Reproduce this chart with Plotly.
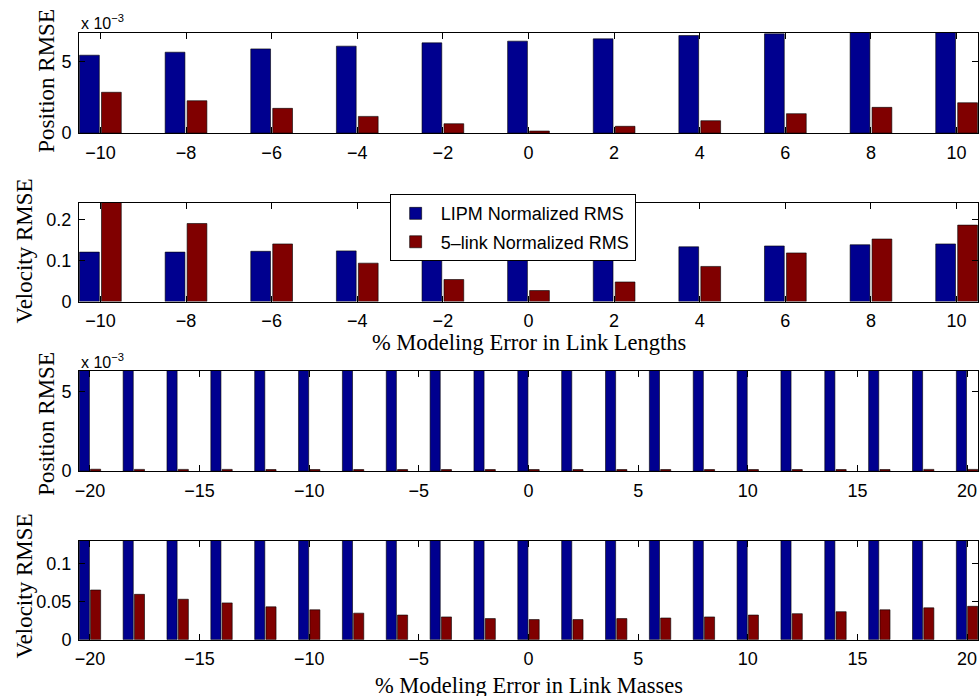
import plotly.graph_objects as go

# ---------------- data ----------------
lengths = [-10, -8, -6, -4, -2, 0, 2, 4, 6, 8, 10]
pos_len_lipm = [5.42e-3, 5.63e-3, 5.86e-3, 6.05e-3, 6.28e-3, 6.40e-3, 6.56e-3, 6.79e-3, 6.91e-3, 7.05e-3, 7.15e-3]
pos_len_5link = [2.84e-3, 2.25e-3, 1.72e-3, 1.16e-3, 0.65e-3, 0.14e-3, 0.47e-3, 0.86e-3, 1.35e-3, 1.79e-3, 2.11e-3]
vel_len_lipm = [0.121, 0.121, 0.123, 0.124, 0.126, 0.128, 0.131, 0.134, 0.136, 0.139, 0.141]
vel_len_5link = [0.245, 0.191, 0.141, 0.094, 0.054, 0.027, 0.048, 0.086, 0.119, 0.153, 0.187]

masses = [-20, -18, -16, -14, -12, -10, -8, -6, -4, -2, 0, 2, 4, 6, 8, 10, 12, 14, 16, 18, 20]
pos_mass_lipm = [6.4e-3, 6.4e-3, 6.4e-3, 6.4e-3, 6.4e-3, 6.4e-3, 6.4e-3, 6.4e-3, 6.4e-3, 6.4e-3, 6.4e-3,
                 6.4e-3, 6.4e-3, 6.4e-3, 6.4e-3, 6.4e-3, 6.4e-3, 6.4e-3, 6.4e-3, 6.4e-3, 6.4e-3]
pos_mass_5link = [0.12e-3, 0.11e-3, 0.11e-3, 0.11e-3, 0.10e-3, 0.10e-3, 0.10e-3, 0.10e-3, 0.10e-3, 0.10e-3, 0.10e-3,
                  0.10e-3, 0.10e-3, 0.10e-3, 0.10e-3, 0.10e-3, 0.10e-3, 0.10e-3, 0.10e-3, 0.11e-3, 0.11e-3]
vel_mass_lipm = [0.132, 0.132, 0.132, 0.132, 0.132, 0.132, 0.132, 0.132, 0.132, 0.132, 0.132,
                 0.132, 0.132, 0.132, 0.132, 0.132, 0.132, 0.132, 0.132, 0.132, 0.132]
vel_mass_5link = [0.0655, 0.0598, 0.0533, 0.0485, 0.0433, 0.0394, 0.0350, 0.0325, 0.0300, 0.0278, 0.0265,
                  0.0265, 0.0278, 0.0286, 0.0300, 0.0325, 0.0343, 0.0369, 0.0394, 0.0420, 0.0440]

names = ["LIPM Normalized RMS", "5\u2013link Normalized RMS"]
len_ticks = [-10, -8, -6, -4, -2, 0, 2, 4, 6, 8, 10]
mass_ticks = [-20, -15, -10, -5, 0, 5, 10, 15, 20]

BLUE = "#00008f"
RED = "#800000"
W, H = 979, 696
L = 79
PW = W - L

fig = go.Figure()

panels = [
    (lengths, pos_len_lipm, pos_len_5link, True),
    (lengths, vel_len_lipm, vel_len_5link, False),
    (masses, pos_mass_lipm, pos_mass_5link, False),
    (masses, vel_mass_lipm, vel_mass_5link, False),
]
for i, (xs, a, b, show) in enumerate(panels):
    ax = "" if i == 0 else str(i + 1)
    fig.add_trace(go.Bar(x=xs, y=a, name=names[0], marker=dict(color=BLUE, line=dict(color="black", width=0.6)),
                         xaxis="x" + ax, yaxis="y" + ax, showlegend=show, legendgroup="a"))
    fig.add_trace(go.Bar(x=xs, y=b, name=names[1], marker=dict(color=RED, line=dict(color="black", width=0.6)),
                         xaxis="x" + ax, yaxis="y" + ax, showlegend=show, legendgroup="b"))

# plot boxes (top, bottom) in pixels
boxes = [(33, 135), (206, 306), (376, 478), (549, 649)]
tickfont = dict(family="Liberation Sans, Arial", size=18, color="black")
yconf = [
    dict(range=[0, 0.007], tickvals=[0, 0.005], ticktext=["0", "5"]),
    dict(range=[0, 0.241], tickvals=[0, 0.1, 0.2], ticktext=["0", "0.1", "0.2"]),
    dict(range=[0, 0.0063], tickvals=[0, 0.005], ticktext=["0", "5"]),
    dict(range=[0, 0.13], tickvals=[0, 0.05, 0.1], ticktext=["0", "0.05", "0.1"]),
]
xconf = [
    dict(range=[-10.5, 10.5], tickvals=len_ticks),
    dict(range=[-10.5, 10.5], tickvals=len_ticks),
    dict(range=[-20.5, 20.5], tickvals=mass_ticks),
    dict(range=[-20.5, 20.5], tickvals=mass_ticks),
]
common = dict(showline=True, linecolor="black", linewidth=1, mirror="ticks", ticks="inside", ticklen=6,
              tickcolor="black", tickwidth=1, showgrid=False, zeroline=False, tickfont=tickfont, fixedrange=True)
for i, (top, bot) in enumerate(boxes):
    ax = "" if i == 0 else str(i + 1)
    dom = [1 - bot / H, 1 - top / H]
    fig.layout["xaxis" + ax] = dict(domain=[0, 1], anchor="y" + ax, ticklabelstandoff=3, **xconf[i], **common)
    fig.layout["yaxis" + ax] = dict(domain=dom, anchor="x" + ax, ticklabelstandoff=3, **yconf[i], **common)

serif_y = dict(family="Liberation Serif, Times New Roman", size=23, color="black")
serif_x = dict(family="Liberation Serif, Times New Roman", size=22.5, color="black")
ann = []
ytitles = [("Position RMSE", 47, 82), ("Velocity RMSE", 24, 255), ("Position RMSE", 47, 430), ("Velocity RMSE", 24, 595)]
for t, px, py in ytitles:
    ann.append(dict(text=t, x=(px - L) / PW, y=1 - py / H, xref="paper", yref="paper", textangle=-90,
                    showarrow=False, font=serif_y, xanchor="center", yanchor="middle"))
ann.append(dict(text="% Modeling Error in Link Lengths", x=0.5, y=1 - 347 / H, xref="paper", yref="paper",
                showarrow=False, font=serif_x, xanchor="center", yanchor="middle"))
ann.append(dict(text="% Modeling Error in Link Masses", x=0.5, y=1 - 695 / H, xref="paper", yref="paper",
                showarrow=False, font=serif_x, xanchor="center", yanchor="middle"))
for py in (34, 378):
    ann.append(dict(text="x 10<sup>\u22123</sup>", x=0.0, y=1 - py / H, xref="paper", yref="paper",
                    showarrow=False, font=dict(family="Liberation Sans, Arial", size=16, color="black"),
                    xanchor="left", yanchor="bottom"))

fig.update_layout(
    width=W, height=H, autosize=False,
    margin=dict(l=L, r=0, t=0, b=0, pad=0),
    paper_bgcolor="white", plot_bgcolor="white",
    barmode="group", bargap=0.487, bargroupgap=0.1,
    annotations=ann,
    legend=dict(x=(390 - L) / PW, y=1 - 197 / H, xanchor="left", yanchor="top",
                bgcolor="white", bordercolor="black", borderwidth=1,
                font=dict(family="Liberation Sans, Arial", size=18, color="black"),
                itemwidth=40, tracegroupgap=2),
    showlegend=True,
)

fig.write_html("out.html", config={"displayModeBar": False, "staticPlot": True},
               post_script="document.body.style.margin='0px';document.body.style.overflow='hidden';")
